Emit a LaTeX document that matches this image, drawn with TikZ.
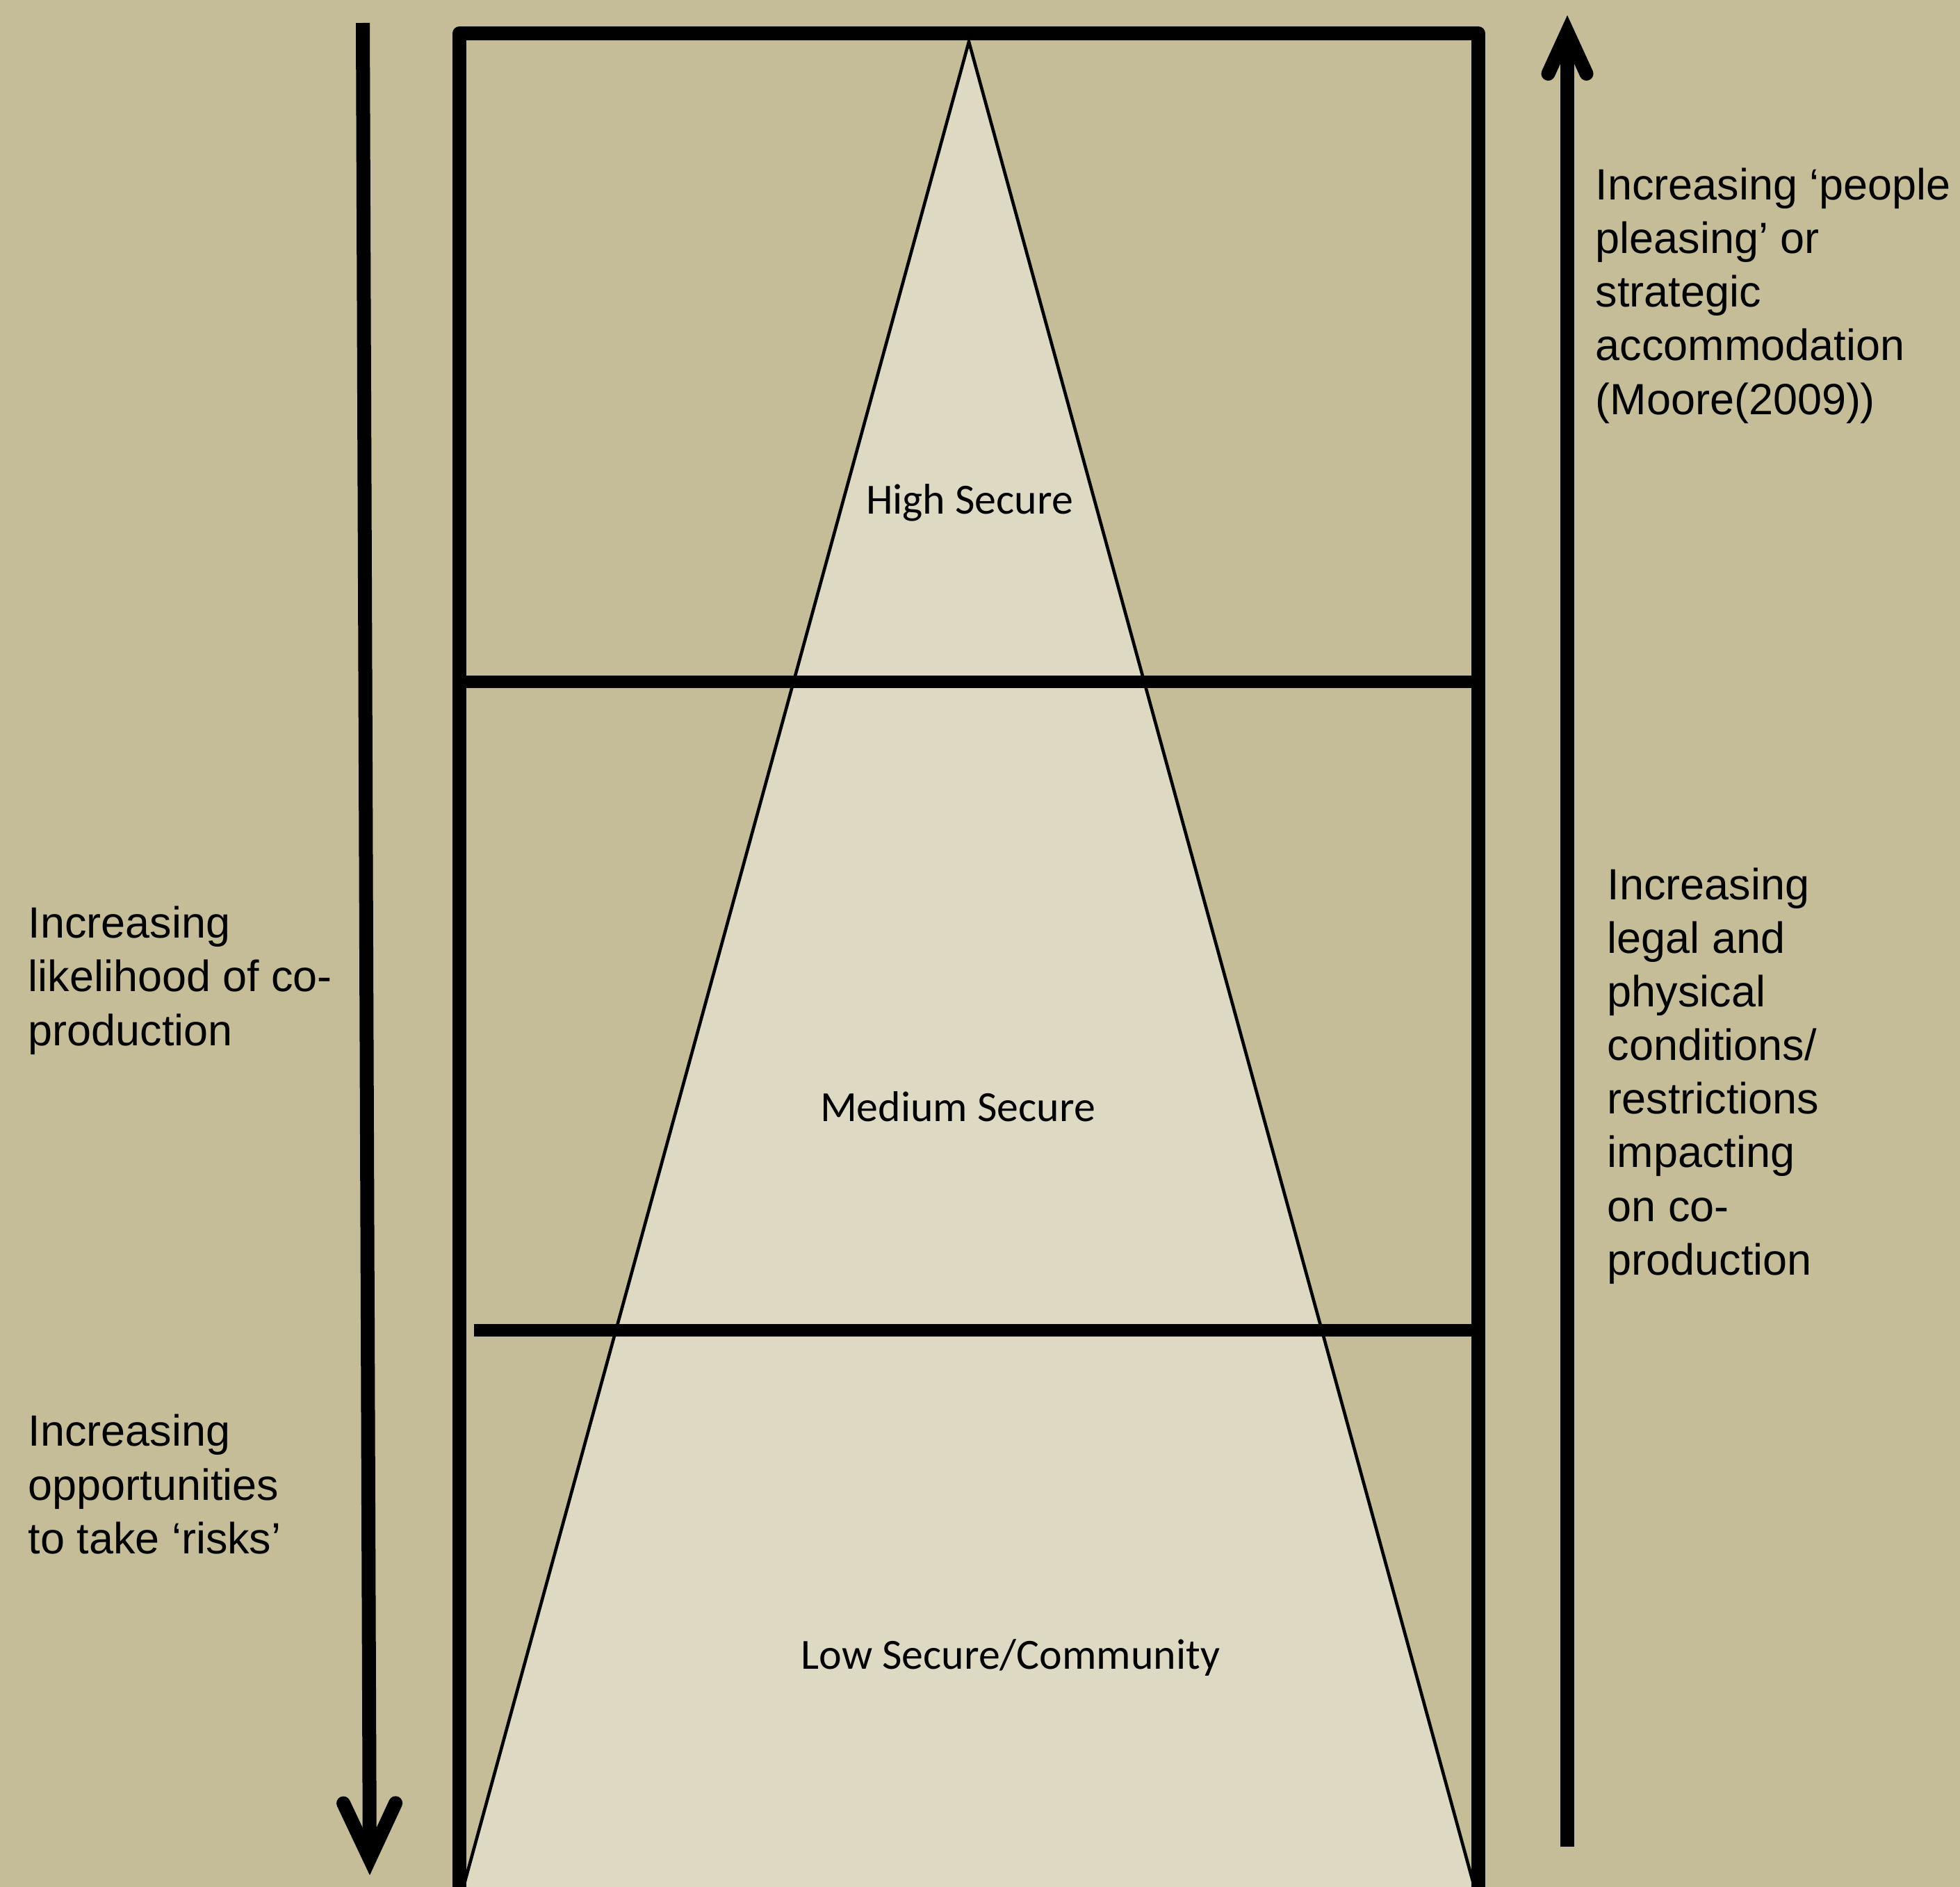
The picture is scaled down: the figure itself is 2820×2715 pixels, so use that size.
\documentclass[tikz,border=0pt]{standalone}
\usepackage{fontspec}
\usepackage{tikz}
\usetikzlibrary{arrows.meta}
\newfontfamily\sidefont{Liberation Sans}
\newfontfamily\zonefont{Carlito}
\definecolor{bgtan}{HTML}{C4BD97}
\definecolor{zonefill}{HTML}{DDD9C3}

\begin{document}
\begin{tikzpicture}[x=0.01cm,y=-0.01cm,
  sidetext/.style={anchor=base west,align=left,inner sep=0pt,
    font=\sidefont\fontsize{17.9}{21.9}\selectfont},
  zonetext/.style={anchor=base,inner sep=0pt,
    font=\zonefont\fontsize{17.6}{21}\selectfont},
  heavy/.style={line width=0.2cm},
  level/.style={line width=0.18cm}]
\fill[bgtan] (0,0) rectangle (2820,2715);
\useasboundingbox (0,0) rectangle (2820,2715);
\filldraw[fill=zonefill,line width=0.046cm,line join=miter]
  (664,2725) -- (1394,60) -- (2124,2725);
\draw[level] (661,981) -- (2127,981);
\draw[level] (682,1914) -- (2127,1914);
\draw[heavy,line join=round] (661,2730) -- (661,48) -- (2127,48) -- (2127,2730);
\coordinate (ltop) at (522,33);
\coordinate (ltip) at (532,2698);
\coordinate (rbot) at (2255,2657);
\coordinate (rtip) at (2255,22);
\draw[heavy,-{Straight Barb[length=8mm,width=7.5mm,line cap=round]}] (ltop) -- (ltip);
\draw[heavy,-{Straight Barb[length=6mm,width=5.5mm,line cap=round]}] (rbot) -- (rtip);
\node[zonetext] (high) at (1395,739) {High Secure};
\node[zonetext] (medium) at (1378,1613) {Medium Secure};
\node[zonetext] (low) at (1454,2401) {Low Secure/Community};
\node[sidetext] (coprod) at (40,1504) {Increasing\\likelihood of co-\\production};
\node[sidetext] (risks) at (40,2235) {Increasing\\opportunities\\to take ‘risks’};
\node[sidetext] (pleasing) at (2295,596) {Increasing ‘people\\pleasing’ or\\strategic\\accommodation\\(Moore(2009))};
\node[sidetext] (restrict) at (2312,1834) {Increasing\\legal and\\physical\\conditions/\\restrictions\\impacting\\on co-\\production};
\end{tikzpicture}
\end{document}
